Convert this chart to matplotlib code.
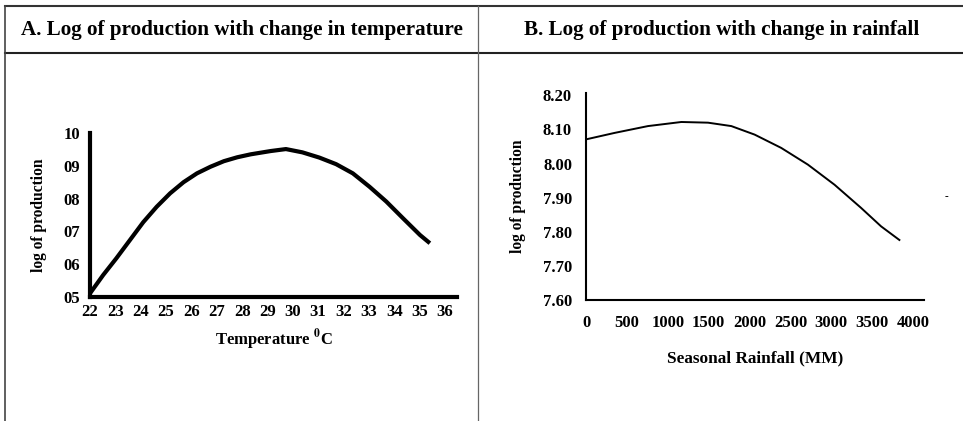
import matplotlib.pyplot as plt
from matplotlib.lines import Line2D

# panel A: log of production vs temperature
temp_x = [22.0, 22.52, 23.04, 23.58, 24.10, 24.63, 25.16, 25.69, 26.22,
          26.75, 27.28, 27.81, 28.34, 29.13, 29.73, 30.38, 31.05, 31.71,
          32.37, 33.03, 33.69, 34.35, 35.02, 35.41]
temp_y = [5.11, 5.67, 6.18, 6.74, 7.28, 7.75, 8.16, 8.50, 8.77,
          8.97, 9.14, 9.26, 9.35, 9.45, 9.51, 9.41, 9.25, 9.05,
          8.77, 8.36, 7.91, 7.40, 6.89, 6.64]
temp_ticks = list(range(22, 37))
temp_yticks = [5, 6, 7, 8, 9, 10]
temp_ylabels = ['05', '06', '07', '08', '09', '10']

# panel B: log of production vs rainfall
rain_x = [0, 350, 758, 1166, 1492, 1777, 2062, 2387, 2713, 3039, 3364,
          3608, 3832]
rain_y = [8.071, 8.090, 8.110, 8.122, 8.120, 8.110, 8.085, 8.046, 7.997,
          7.938, 7.870, 7.816, 7.776]
rain_ticks = [0, 500, 1000, 1500, 2000, 2500, 3000, 3500, 4000]
rain_yticks = [7.6, 7.7, 7.8, 7.9, 8.0, 8.1, 8.2]

plt.rcParams['font.family'] = ['Liberation Serif', 'DejaVu Serif']
plt.rcParams['font.weight'] = 'bold'
plt.rcParams['mathtext.fontset'] = 'stix'

W, H = 963, 421
fig = plt.figure(figsize=(W / 100, H / 100), dpi=100)
fig.patch.set_facecolor('white')


def px_box(left, top, right, bottom):
    """
        Converts pixel box to figure fractions
    """
    return [left / W, 1 - bottom / H, (right - left) / W, (bottom - top) / H]


def hline(y, x0, x1, lw, colour):
    fig.add_artist(Line2D([x0 / W, x1 / W], [1 - y / H, 1 - y / H],
                          transform=fig.transFigure, lw=lw, color=colour))


def vline(x, y0, y1, lw, colour):
    fig.add_artist(Line2D([x / W, x / W], [1 - y0 / H, 1 - y1 / H],
                          transform=fig.transFigure, lw=lw, color=colour))


# table frame
hline(6, 5, W, 1.5, '#333333')
hline(53, 5, W, 1.5, '#222222')
vline(5, 6, H, 1.2, '#444444')
vline(477.5, 6, H, 0.9, '#666666')

fig.text(242 / W, 1 - 30 / H, 'A. Log of production with change in temperature',
         ha='center', va='center', fontsize=15.2, fontweight='bold')
fig.text(722 / W, 1 - 30 / H, 'B. Log of production with change in rainfall',
         ha='center', va='center', fontsize=15.2, fontweight='bold')

# panel A
ax1 = fig.add_axes(px_box(90, 133, 457, 297))
ax1.plot(temp_x, temp_y, color='black', lw=3.0, solid_capstyle='butt',
         solid_joinstyle='round')
ax1.set_xlim(22, 36.48)
ax1.set_ylim(5, 10)
ax1.set_xticks(temp_ticks)
ax1.set_xticklabels([str(t) for t in temp_ticks])
ax1.set_yticks(temp_yticks)
ax1.set_yticklabels(temp_ylabels)
for s in ['top', 'right']:
    ax1.spines[s].set_visible(False)
for s in ['left', 'bottom']:
    ax1.spines[s].set_linewidth(3.0)
ax1.tick_params(length=0, labelsize=12)
ax1.tick_params(axis='x', pad=5)
ax1.tick_params(axis='y', pad=7)
ax1.set_xlabel(r'Temperature $^{\mathbf{0}}$C', fontsize=12,
               fontweight='bold', labelpad=5)
ax1.set_ylabel('log of production', fontsize=11.2, fontweight='bold',
               labelpad=12)

# panel B
ax2 = fig.add_axes(px_box(586, 93, 924, 300))
ax2.plot(rain_x, rain_y, color='black', lw=1.4)
ax2.set_xlim(0, 4133)
ax2.set_ylim(7.6, 8.207)
ax2.set_xticks(rain_ticks)
ax2.set_xticklabels([str(t) for t in rain_ticks])
ax2.set_yticks(rain_yticks)
ax2.set_yticklabels(['%.2f' % v for v in rain_yticks])
for s in ['top', 'right']:
    ax2.spines[s].set_visible(False)
for s in ['left', 'bottom']:
    ax2.spines[s].set_linewidth(1.5)
ax2.tick_params(length=0, labelsize=12)
ax2.tick_params(axis='x', pad=11)
ax2.tick_params(axis='y', pad=10)
ax2.set_xlabel('Seasonal Rainfall (MM)', fontsize=12.4, fontweight='bold',
               labelpad=14)
ax2.set_ylabel('log of production', fontsize=11.2, fontweight='bold',
               labelpad=12)

fig.text(946 / W, 1 - 197 / H, '-', ha='center', va='center', fontsize=8)

fig.savefig('out.png', dpi=100, facecolor='white')
